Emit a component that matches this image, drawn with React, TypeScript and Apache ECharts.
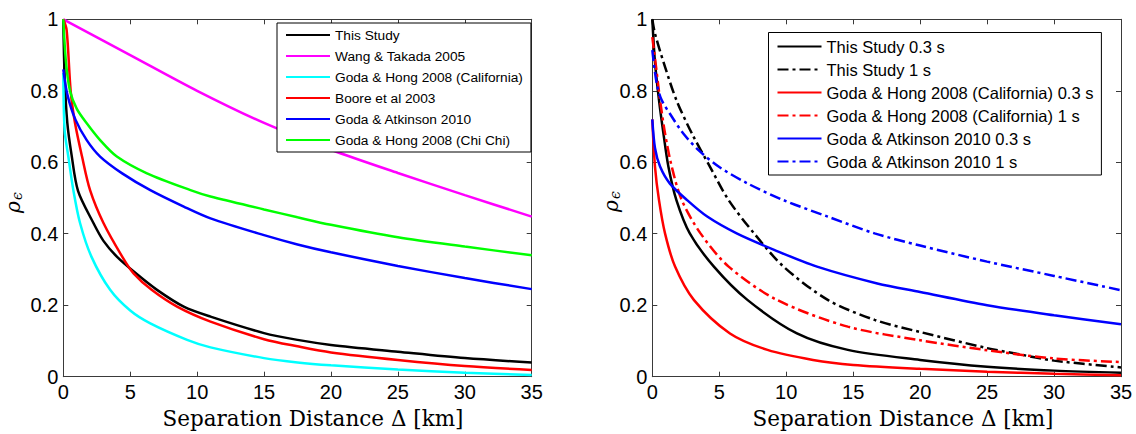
import React, { useEffect, useRef } from "react";
import * as echarts from "echarts";

// ---- Left panel data: [distance km, correlation] ----
const thisStudy = [[0,1],[0.1,0.84],[0.3,0.71],[0.62,0.62],[1.1,0.52],[2.25,0.43],[3,0.38],[4,0.336],[5.4,0.29],[7,0.243],[9,0.196],[11,0.168],[15,0.122],[17.5,0.103],[20,0.089],[25,0.07],[30,0.052],[35,0.04]];
const wangTakada = [[0,1],[5,0.9],[10,0.8],[15,0.71],[20,0.635],[25,0.57],[30,0.508],[35,0.448]];
const godaHongCal = [[0,0.85],[0.1,0.69],[0.375,0.616],[0.75,0.522],[1.25,0.43],[2.1,0.336],[3.5,0.243],[5,0.185],[6.5,0.149],[9.25,0.103],[11,0.082],[15,0.052],[17.5,0.04],[20,0.032],[25,0.02],[30,0.011],[35,0.005]];
const boore = [[0,1],[0.25,0.97],[0.55,0.8],[0.875,0.71],[1.4,0.616],[2,0.522],[3,0.43],[4.4,0.336],[5.25,0.289],[6.6,0.243],[8.5,0.196],[11,0.154],[15,0.105],[17.5,0.085],[20,0.068],[25,0.047],[30,0.03],[35,0.019]];
const godaAtkinson = [[0,0.86],[0.3,0.79],[0.9,0.72],[1.75,0.662],[2.75,0.616],[4.4,0.569],[6.5,0.522],[9,0.476],[11,0.443],[15,0.396],[17.5,0.37],[20,0.348],[25,0.31],[30,0.276],[35,0.245]];
const godaHongChiChi = [[0,1],[0.2,0.88],[0.5,0.8],[1,0.75],[1.75,0.709],[2.75,0.662],[4,0.616],[6.25,0.569],[9.5,0.522],[11,0.504],[15,0.468],[17.5,0.446],[20,0.425],[25,0.39],[30,0.364],[35,0.34]];

// ---- Right panel data ----
const thisStudy03 = [[0,1],[0.2,0.88],[0.5,0.774],[0.83,0.681],[1.2,0.588],[1.8,0.494],[2.8,0.401],[4.6,0.308],[7.1,0.215],[10.8,0.121],[14.6,0.075],[20,0.047],[25,0.028],[30,0.017],[35,0.011]];
const thisStudy1 = [[0,1],[0.2,0.96],[0.95,0.867],[1.8,0.774],[2.95,0.681],[4.3,0.588],[5.7,0.494],[7.6,0.401],[9.8,0.308],[13.1,0.215],[16.6,0.159],[20,0.125],[25,0.08],[27.5,0.062],[30,0.045],[35,0.026]];
const godaHongCal03 = [[0,0.72],[0.2,0.588],[0.5,0.494],[0.95,0.401],[1.7,0.308],[3.1,0.215],[5.8,0.121],[8.6,0.075],[12,0.047],[15,0.033],[20,0.022],[25,0.014],[30,0.008],[35,0.004]];
const godaHongCal1 = [[0,0.95],[0.12,0.914],[0.28,0.867],[0.58,0.774],[0.95,0.681],[1.45,0.588],[2.2,0.494],[3.6,0.401],[5.7,0.308],[9.3,0.215],[14.6,0.14],[20,0.102],[25,0.074],[30,0.051],[35,0.041]];
const godaAtkinson03 = [[0,0.72],[0.2,0.64],[0.58,0.588],[1.3,0.541],[2.6,0.494],[4.1,0.448],[6.3,0.401],[9.1,0.355],[12.3,0.308],[16.8,0.261],[20,0.237],[25,0.2],[30,0.172],[35,0.147]];
const godaAtkinson1 = [[0,0.914],[0.33,0.82],[0.7,0.774],[1.45,0.728],[2.3,0.681],[3.45,0.634],[4.95,0.588],[7.1,0.541],[9.8,0.494],[13.1,0.448],[16.6,0.401],[20,0.367],[25,0.322],[30,0.282],[35,0.242]];

const leftNames = ["This Study", "Wang & Takada 2005", "Goda & Hong 2008 (California)", "Boore et al 2003", "Goda & Atkinson 2010", "Goda & Hong 2008 (Chi Chi)"];
const rightNames = ["This Study 0.3 s", "This Study 1 s", "Goda & Hong 2008 (California) 0.3 s", "Goda & Hong 2008 (California) 1 s", "Goda & Atkinson 2010 0.3 s", "Goda & Atkinson 2010 1 s"];
const xTitle = "Separation Distance \u0394 [km]";

const DASHDOT = [11, 4, 3, 4];
const AXIS_COLOR = "#3a3a3a";
const SANS = "Liberation Sans, Arial, sans-serif";
const SERIF = "DejaVu Serif, serif";

function mkSeries(name: string, data: number[][], color: string, dash: any, g: number) {
  return {
    type: "line",
    name,
    data,
    xAxisIndex: g * 2,
    yAxisIndex: g * 2,
    symbol: "none",
    showSymbol: false,
    smooth: 0.3,
    lineStyle: { color, width: 2.5, type: dash },
    itemStyle: { color },
    emphasis: { disabled: true },
  };
}

function xAxisDef(g: number, pos: "bottom" | "top") {
  return {
    type: "value",
    gridIndex: g,
    position: pos,
    min: 0,
    max: 35,
    interval: 5,
    axisLine: { show: true, onZero: false, lineStyle: { color: AXIS_COLOR, width: 1 } },
    axisTick: { show: true, inside: true, length: 5, lineStyle: { color: AXIS_COLOR } },
    axisLabel: pos === "bottom"
      ? { show: true, color: "#000", fontSize: 20, fontFamily: SANS, margin: 5 }
      : { show: false },
    splitLine: { show: false },
  };
}

function yAxisDef(g: number, pos: "left" | "right") {
  return {
    type: "value",
    gridIndex: g,
    position: pos,
    min: 0,
    max: 1,
    interval: 0.2,
    axisLine: { show: true, onZero: false, lineStyle: { color: AXIS_COLOR, width: 1 } },
    axisTick: { show: true, inside: true, length: 5, lineStyle: { color: AXIS_COLOR } },
    axisLabel: pos === "left"
      ? { show: true, color: "#000", fontSize: 20, fontFamily: SANS, margin: 5 }
      : { show: false },
    splitLine: { show: false },
  };
}

function yLabel(x: number, y: number) {
  return {
    type: "group",
    x,
    y,
    rotation: Math.PI / 2,
    children: [
      { type: "text", x: -7, y: 0, style: { text: "\u03C1", font: "italic 20px DejaVu Serif", fill: "#000", textAlign: "center", textVerticalAlign: "middle" } },
      { type: "text", x: 4, y: 4, style: { text: "\u03F5", font: "italic 14px DejaVu Serif", fill: "#000", textAlign: "center", textVerticalAlign: "middle" } },
    ],
  };
}

export default function App() {
  const ref = useRef<HTMLDivElement>(null);
  useEffect(() => {
    if (!ref.current) return;
    const chart = echarts.init(ref.current, undefined, { renderer: "svg" });
    const leftData = [thisStudy, wangTakada, godaHongCal, boore, godaAtkinson, godaHongChiChi];
    const leftColors = ["#000000", "#ff00ff", "#00ffff", "#ff0000", "#0000ff", "#00ff00"];
    const rightData = [thisStudy03, thisStudy1, godaHongCal03, godaHongCal1, godaAtkinson03, godaAtkinson1];
    const rightColors = ["#000000", "#000000", "#ff0000", "#ff0000", "#0000ff", "#0000ff"];
    const rightDash = ["solid", DASHDOT, "solid", DASHDOT, "solid", DASHDOT];

    const series: any[] = [];
    leftNames.forEach((n, i) => series.push(mkSeries(n, leftData[i], leftColors[i], "solid", 0)));
    rightNames.forEach((n, i) => series.push(mkSeries(n, rightData[i], rightColors[i], rightDash[i], 1)));

    const legendCommon = {
      orient: "vertical",
      selectedMode: false,
      borderColor: "#000",
      borderWidth: 1,
      borderRadius: 0,
      backgroundColor: "#fff",
      itemWidth: 44,
      align: "left",
      itemStyle: { opacity: 0, borderWidth: 0 },
    };

    chart.setOption({
      animation: false,
      backgroundColor: "#fff",
      grid: [
        { left: 63.3, top: 19.3, width: 468.4, height: 357.4 },
        { left: 652.3, top: 19.3, width: 468.7, height: 357.4 },
      ],
      xAxis: [xAxisDef(0, "bottom"), xAxisDef(0, "top"), xAxisDef(1, "bottom"), xAxisDef(1, "top")],
      yAxis: [yAxisDef(0, "left"), yAxisDef(0, "right"), yAxisDef(1, "left"), yAxisDef(1, "right")],
      legend: [
        {
          ...legendCommon,
          data: leftNames,
          left: 277,
          top: 23,
          itemHeight: 14,
          itemGap: 7,
          padding: [5, 8, 5, 8],
          textStyle: { fontSize: 13.7, fontFamily: SANS, color: "#000" },
        },
        {
          ...legendCommon,
          data: rightNames,
          left: 768.5,
          top: 32.5,
          itemHeight: 16,
          itemGap: 6,
          padding: [5.5, 8, 5, 8],
          textStyle: { fontSize: 16.5, fontFamily: SANS, color: "#000" },
        },
      ],
      graphic: [
        { type: "text", x: 313, y: 418, style: { text: xTitle, font: "21.5px " + SERIF, fill: "#000", textAlign: "center", textVerticalAlign: "middle" } },
        { type: "text", x: 903, y: 418, style: { text: xTitle, font: "21.5px " + SERIF, fill: "#000", textAlign: "center", textVerticalAlign: "middle" } },
        yLabel(12.5, 200),
        yLabel(611, 199),
      ],
      series,
    });
    return () => chart.dispose();
  }, []);
  return <div ref={ref} style={{ position: "absolute", left: 0, top: 0, width: 1136, height: 434 }} />;
}
